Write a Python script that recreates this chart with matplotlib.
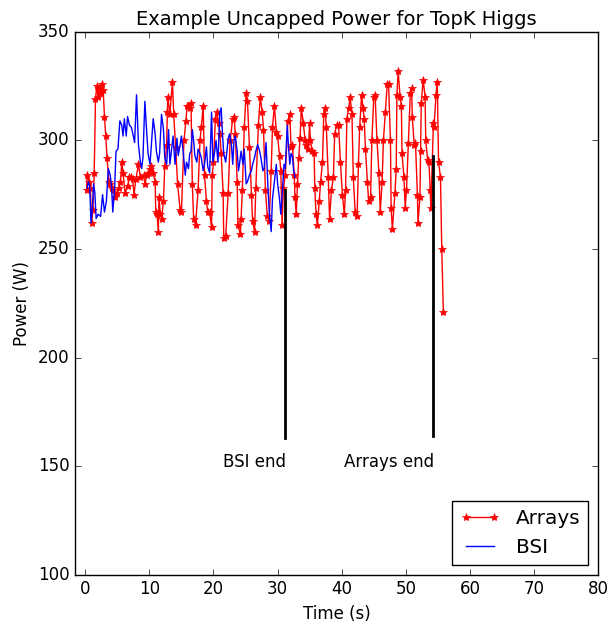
import matplotlib
matplotlib.use("Agg")
import matplotlib.pyplot as plt

# Arrays run: sample times (s) and power (W)
arrays_t = [0.2, 0.3, 0.6, 0.8, 1.0, 1.2, 1.4, 1.6, 1.8, 2.0, 2.2, 2.4, 2.6, 2.8,
            3.0, 3.2, 3.4, 3.7, 3.9, 4.1, 4.4, 4.7, 5.0, 5.2, 5.5, 5.7, 5.9, 6.2,
            6.6, 6.9, 7.1, 7.4, 7.6, 7.9, 8.3, 8.6, 9.1, 9.3, 9.6, 9.8, 10.1, 10.3,
            10.6, 10.9, 11.0, 11.2, 11.4, 11.5, 11.7, 11.9, 12.2, 12.4, 12.7, 12.8,
            12.9, 13.2, 13.6, 13.8, 14.1, 14.4, 14.8, 15.0, 15.4, 15.7, 15.9, 16.1,
            16.3, 16.5, 16.7, 16.9, 17.2, 17.6, 17.9, 18.1, 18.4, 18.6, 18.9, 19.1,
            19.4, 19.7, 19.8, 20.0, 20.3, 20.5, 20.8, 21.0, 21.2, 21.5, 21.6, 21.9,
            22.3, 22.6, 23.0, 23.2, 23.4, 23.7, 23.8, 24.2, 24.3, 24.5, 24.8, 25.1,
            25.3, 25.6, 25.9, 26.1, 26.4, 26.6, 27.0, 27.3, 27.6, 27.8, 28.1, 28.4,
            28.7, 29.0, 29.2, 29.5, 29.8, 30.0, 30.3, 30.5, 30.7, 30.9, 31.2, 31.6,
            31.9, 32.1, 32.3, 32.6, 32.7, 32.9, 33.1, 33.3, 33.5, 33.7, 34.0, 34.3,
            34.5, 34.8, 35.0, 35.1, 35.4, 35.7, 35.8, 36.0, 36.2, 36.5, 36.7, 37.0,
            37.2, 37.4, 37.6, 37.9, 38.1, 38.4, 38.7, 38.9, 39.2, 39.5, 39.8, 40.1,
            40.4, 40.6, 40.8, 41.1, 41.3, 41.6, 41.8, 42.1, 42.4, 42.6, 42.8, 43.1,
            43.3, 43.5, 43.7, 44.0, 44.2, 44.5, 44.7, 45.0, 45.2, 45.5, 45.8, 46.0,
            46.3, 46.5, 46.8, 47.1, 47.3, 47.6, 47.7, 47.9, 48.3, 48.5, 48.6, 48.8,
            49.1, 49.3, 49.4, 49.7, 49.9, 50.1, 50.4, 50.7, 50.9, 51.0, 51.3, 51.5,
            51.8, 51.9, 52.2, 52.3, 52.4, 52.7, 53.0, 53.1, 53.4, 53.6, 53.8, 53.9,
            54.3, 54.4, 54.7, 54.9, 55.1, 55.4, 55.6, 55.85]
arrays_w = [277, 284, 281, 278, 262, 268, 285, 319, 325, 320, 324, 322, 326, 323,
            311, 302, 292, 281, 280, 278, 277, 274, 276, 278, 281, 290, 285, 276,
            279, 283, 283, 282, 275, 282, 289, 283, 284, 280, 284, 285, 287, 288,
            285, 281, 267, 266, 258, 274, 266, 264, 272, 288, 298, 313,
            320, 312, 327, 312, 297, 280, 268, 267, 300, 309, 316, 316,
            315, 317, 280, 264, 261, 277, 300, 306, 316, 284, 272, 267,
            267, 260, 284, 290, 310, 313, 308, 303, 294, 276, 255, 256,
            276, 300, 310, 311, 303, 281, 261, 257, 264, 277, 306, 322,
            318, 297, 275, 263, 258, 278, 307, 320, 313, 305, 277, 265,
            263, 286, 306, 316, 304, 302, 293, 286, 261, 278, 284, 309,
            312, 297, 298, 284, 274, 266, 280, 292, 301, 315, 308, 300,
            298, 296, 308, 300, 295, 294, 278, 266, 261, 272, 281, 290,
            312, 315, 306, 283, 264, 277, 283, 303, 307, 307, 290, 275,
            266, 277, 310, 315, 320, 312, 283, 267, 265, 289, 306, 321,
            315, 310, 296, 281, 272, 274, 300, 320, 321, 300, 285, 267,
            281, 300, 313, 326, 326, 300, 269, 259, 276, 287, 321, 332,
            320, 316, 294, 283, 269, 277, 299, 322, 324, 311, 298, 299,
            275, 262, 274, 295, 317, 328, 320, 300, 291, 290, 277, 269,
            308, 306, 321, 327, 290, 283, 250, 221]

# BSI run
bsi_t = [0.3, 0.5, 0.7, 0.9, 1.1, 1.3, 1.5, 1.7, 2.0, 2.4, 2.7, 3.0, 3.3, 3.6,
         3.9, 4.1, 4.3, 4.6, 4.8, 5.1, 5.4, 5.7, 5.9, 6.1, 6.4, 6.6, 6.9, 7.2,
         7.5, 7.7, 8.0, 8.3, 8.6, 8.8, 9.0, 9.3, 9.6, 9.8, 10.1, 10.4, 10.6, 10.9,
         11.1, 11.4, 11.6, 11.9, 12.2, 12.4, 12.7, 13.0, 13.2, 13.5, 13.7, 14.0,
         14.3, 14.5, 14.8, 15.0, 15.3, 15.6, 15.8, 16.1, 16.3, 16.5, 16.7, 16.9,
         17.1, 17.4, 17.6, 17.9, 18.1, 18.4, 18.6, 18.9, 19.1, 19.4, 19.7, 19.9,
         20.2, 20.4, 20.7, 21.0, 21.2, 21.4, 21.6, 21.9, 22.1, 22.3, 22.5, 22.8,
         23.0, 23.2, 23.4, 23.7, 23.9, 24.1, 24.3, 24.6, 24.8, 25.1, 25.3, 25.6,
         25.9, 26.1, 26.4, 26.6, 26.9, 27.2, 27.4, 27.7, 27.9, 28.2, 28.5, 28.7,
         29.0, 29.2, 29.5, 29.8, 30.0, 30.3, 30.5, 30.8, 31.0, 31.2, 31.5, 31.7,
         31.9, 32.1, 32.3, 32.5, 32.7]
bsi_w = [278, 281, 279, 262, 268, 280, 276, 264, 266, 265, 275, 267, 272, 287,
         284, 279, 267, 279, 295, 296, 309, 307, 302, 310, 302, 311, 307, 306,
         302, 299, 321, 298, 290, 287, 292, 318, 303, 294, 289, 302, 310, 303,
         295, 290, 294, 312, 305, 292, 289, 305, 289, 297, 302, 289,
         301, 293, 298, 302, 294, 284, 290, 287, 294, 295, 305, 300,
         293, 290, 296, 294, 292, 286, 289, 297, 288, 285, 313, 290,
         295, 300, 290, 313, 315, 303, 294, 290, 295, 301, 303, 298,
         289, 300, 302, 295, 286, 290, 295, 289, 296, 280, 281, 284,
         286, 289, 292, 295, 298, 295, 292, 286, 287, 299, 278, 267,
         258, 273, 281, 289, 280, 273, 266, 279, 289, 287, 307, 297,
         289, 294, 293, 286, 283]

# end-of-run markers: x position, line bottom/top (W)
bsi_end = 31.1
arrays_end = 54.2
bsi_end_span = (163, 277)
arrays_end_span = (164, 293)

plt.style.use('classic')
plt.rcParams['figure.facecolor'] = 'white'
plt.rcParams['savefig.facecolor'] = 'white'

fig = plt.figure(figsize=(6.12, 6.24), dpi=100)
ax = fig.add_axes([0.1225, 0.079, 0.855, 0.870])

ax.plot(arrays_t, arrays_w, 'r-*', label='Arrays', markersize=6, markeredgecolor='r')
ax.plot(bsi_t, bsi_w, 'b-', label='BSI')

ax.plot([bsi_end, bsi_end], bsi_end_span, 'k-', linewidth=2)
ax.plot([arrays_end, arrays_end], arrays_end_span, 'k-', linewidth=2)
ax.text(bsi_end + 0.2, 149.5, 'BSI end', ha='right', va='baseline', fontsize=12)
ax.text(arrays_end + 0.2, 149.5, 'Arrays end', ha='right', va='baseline', fontsize=12)

ax.set_xlim(-1.6, 80)
ax.set_ylim(100, 350)
ax.set_xticks(range(0, 81, 10))
ax.set_xlabel('Time (s)')
ax.set_ylabel('Power (W)')
ax.set_title('Example Uncapped Power for TopK Higgs', fontsize=14)
ax.legend(loc='lower right')

fig.savefig('out.png', dpi=100)
